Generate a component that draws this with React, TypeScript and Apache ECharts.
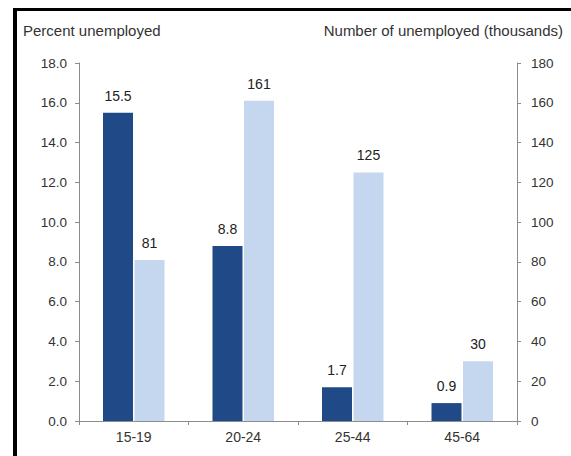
import React, { useEffect, useRef } from "react";
import * as echarts from "echarts";

const categories = ["15-19", "20-24", "25-44", "45-64"];
const percentUnemployed = [15.5, 8.8, 1.7, 0.9];
const numberUnemployed = [81, 161, 125, 30];
const leftTitle = "Percent unemployed";
const rightTitle = "Number of unemployed (thousands)";

const FONT = "Liberation Sans, Arial, sans-serif";

export default function App() {
  const ref = useRef<HTMLDivElement>(null);
  useEffect(() => {
    if (!ref.current) return;
    const chart = echarts.init(ref.current, null, { renderer: "svg" });
    const axisColor = "#8c8c8c";
    chart.setOption({
      animation: false,
      backgroundColor: "#ffffff",
      textStyle: { fontFamily: FONT },
      grid: { left: 79, right: 54, top: 63, bottom: 35 },
      graphic: [
        { type: "rect", shape: { x: 13, y: 8, width: 558, height: 3 }, style: { fill: "#000" } },
        { type: "rect", shape: { x: 13, y: 8, width: 4, height: 448 }, style: { fill: "#000" } },
        {
          type: "text",
          left: 23,
          top: 23,
          style: { text: leftTitle, fontSize: 15, fill: "#333", fontFamily: FONT },
        },
        {
          type: "text",
          right: 8,
          top: 23,
          style: { text: rightTitle, fontSize: 15, fill: "#333", fontFamily: FONT },
        },
      ],
      xAxis: {
        type: "category",
        data: categories,
        axisLine: { lineStyle: { color: axisColor } },
        axisTick: { show: true, length: 4, lineStyle: { color: axisColor } },
        axisLabel: { color: "#333", fontSize: 14, margin: 9 },
      },
      yAxis: [
        {
          type: "value",
          min: 0,
          max: 18,
          interval: 2,
          position: "left",
          axisLine: { show: true, lineStyle: { color: axisColor } },
          axisTick: { show: true, length: 4, lineStyle: { color: axisColor } },
          splitLine: { show: false },
          axisLabel: {
            color: "#333",
            fontSize: 13.5,
            margin: 12,
            formatter: (v: number) => v.toFixed(1),
          },
        },
        {
          type: "value",
          min: 0,
          max: 180,
          interval: 20,
          position: "right",
          axisLine: { show: true, lineStyle: { color: axisColor } },
          axisTick: { show: true, length: 4, lineStyle: { color: axisColor } },
          splitLine: { show: false },
          axisLabel: { color: "#333", fontSize: 13.5, margin: 14 },
        },
      ],
      series: [
        {
          type: "bar",
          name: leftTitle,
          data: percentUnemployed,
          yAxisIndex: 0,
          barWidth: 30,
          barGap: "5%",
          itemStyle: { color: "#1f4a87" },
          label: {
            show: true,
            position: "top",
            distance: 10,
            color: "#222",
            fontSize: 14,
            formatter: (p: any) => Number(p.value).toFixed(1),
          },
        },
        {
          type: "bar",
          name: rightTitle,
          data: numberUnemployed,
          yAxisIndex: 1,
          barWidth: 30,
          itemStyle: { color: "#c5d7ee" },
          label: {
            show: true,
            position: "top",
            distance: 10,
            color: "#222",
            fontSize: 14,
          },
        },
      ],
    });
    return () => chart.dispose();
  }, []);
  return (
    <div
      ref={ref}
      style={{ position: "fixed", left: 0, top: 0, width: 571, height: 456 }}
    />
  );
}
